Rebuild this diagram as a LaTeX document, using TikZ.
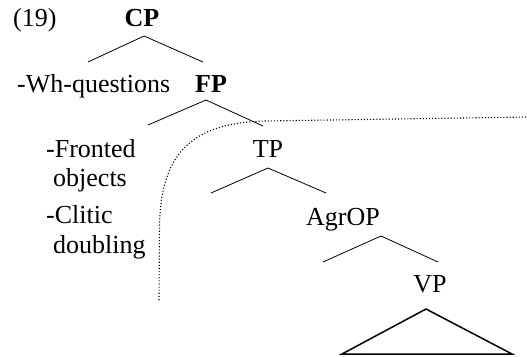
\documentclass[tikz,border=0pt]{standalone}
\usepackage{fontspec}
\setmainfont{Liberation Serif}
\begin{document}
\begin{tikzpicture}[x=1pt,y=-1pt,
  lbl/.style={inner sep=0pt, anchor=base, font=\fontsize{26}{31}\selectfont},
  lblw/.style={lbl, anchor=base west},
  branch/.style={line width=0.8pt},
  tri/.style={line width=1.5pt},
  region/.style={dotted, line width=1.1pt}]
\useasboundingbox (0,0) rectangle (527,356);
\node[lblw] (num) at (13,27) {(19)};
\node[lbl] (cp) at (142,27) {\textbf{CP}};
\node[lblw] (wh) at (17,92) {-Wh-questions};
\node[lbl] (fp) at (211,92) {\textbf{FP}};
\node[lbl] (tp) at (268,157) {TP};
\node[lbl] (agrop) at (343,225) {AgrOP};
\node[lbl] (vp) at (430,292) {VP};
\node[lblw] (fr) at (46,157) {-Fronted};
\node[lblw] (ob) at (53,186) {objects};
\node[lblw] (cl) at (46,223) {-Clitic};
\node[lblw] (db) at (53,253) {doubling};
% branch points
\coordinate (cpA) at (144,36);
\coordinate (cpL) at (88,62);
\coordinate (cpR) at (203,62);
\coordinate (fpA) at (206,100);
\coordinate (fpL) at (148,125);
\coordinate (fpR) at (263,126);
\coordinate (tpA) at (268,168);
\coordinate (tpL) at (211,193);
\coordinate (tpR) at (326,193);
\coordinate (agA) at (381,236);
\coordinate (agL) at (323,262);
\coordinate (agR) at (438,262);
\coordinate (vpA) at (426,309);
\coordinate (vpL) at (342,354);
\coordinate (vpR) at (512,354);
\draw[branch] (cpL) -- (cpA) -- (cpR);
\draw[branch] (fpL) -- (fpA) -- (fpR);
\draw[branch] (tpL) -- (tpA) -- (tpR);
\draw[branch] (agL) -- (agA) -- (agR);
\draw[tri] (vpA) -- (vpL) -- (vpR) -- cycle;
% dotted region boundary
\coordinate (d0) at (159,300);
\coordinate (d1) at (159.5,225);
\coordinate (d2) at (265,121);
\coordinate (d3) at (527,117);
\draw[region] (d0) -- (d1) .. controls (161,150) and (195,123) .. (d2) -- (d3);
\end{tikzpicture}
\end{document}
